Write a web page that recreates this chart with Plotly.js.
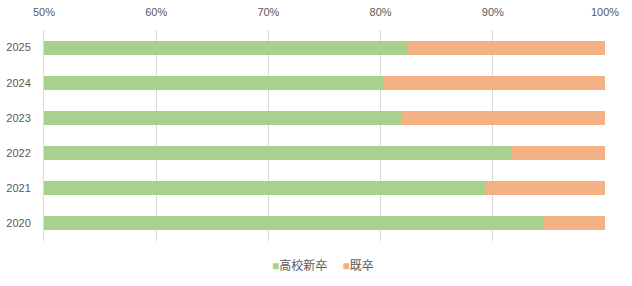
<!DOCTYPE html>
<html><head><meta charset="utf-8">
<script src="https://cdn.plot.ly/plotly-3.0.1.min.js"></script>
<style>html,body{margin:0;padding:0;background:#fff}</style>
</head><body><div id="chart" style="width:632px;height:286px"></div>
<script>
const years = ['2020','2021','2022','2023','2024','2025'];
const newGrad = [94.6, 89.3, 91.6, 81.9, 80.3, 82.4];
const former = newGrad.map(v => +(100 - v).toFixed(1));
const seriesNames = ['高校新卒','既卒'];
const seriesColors = ['#a9d18e','#f4b183'];
const tickVals = [50,60,70,80,90,100];
const tickText = ['50%','60%','70%','80%','90%','100%'];

const font = {family:'"Liberation Sans", "Noto Sans CJK JP", sans-serif', size:11, color:'#595959'};
const traces = [
  {type:'bar', orientation:'h', y:years, x:newGrad, name:seriesNames[0], marker:{color:seriesColors[0]}},
  {type:'bar', orientation:'h', y:years, x:former, name:seriesNames[1], marker:{color:seriesColors[1]}}
];
const legendText = seriesNames.map((n,i)=>`<span style="color:${seriesColors[i]}">■</span>${n}`).join('　 ');
const layout = {
  width:632, height:286, barmode:'stack', bargap:0.6,
  margin:{l:44, r:27, t:29.5, b:44.5},
  paper_bgcolor:'#fff', plot_bgcolor:'#fff', font:font,
  xaxis:{range:[50,100], side:'top', tickvals:tickVals, ticktext:tickText, showgrid:true, gridcolor:'#d9d9d9', gridwidth:1, zeroline:false, showline:false, ticks:'outside', ticklen:9, tickcolor:'rgba(0,0,0,0)', fixedrange:true, tickfont:font},
  yaxis:{type:'category', categoryorder:'array', categoryarray:years, showgrid:false, zeroline:false, showline:true, linecolor:'#d9d9d9', linewidth:1, ticks:'outside', ticklen:10, tickcolor:'rgba(0,0,0,0)', tickfont:font},
  showlegend:false,
  annotations:[{xref:'paper', yref:'paper', x:0.498, y:-0.12, xanchor:'center', yanchor:'middle', showarrow:false, text:legendText, font:{family:font.family, size:12, color:'#595959'}}]
};
Plotly.newPlot('chart', traces, layout, {displayModeBar:false, staticPlot:true});
</script></body></html>
